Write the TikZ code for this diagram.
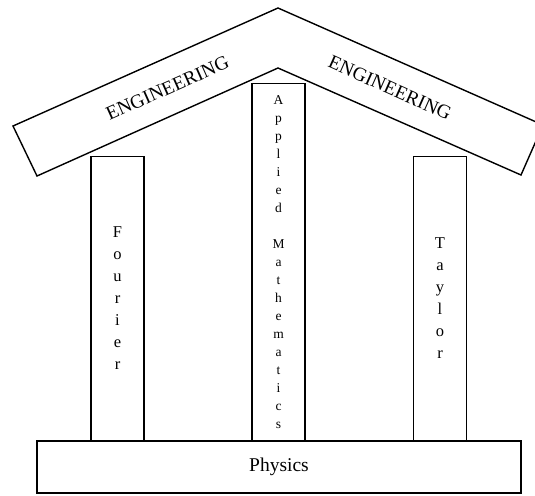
\documentclass[tikz,border=0pt]{standalone}
\usepackage{fontspec}
\setmainfont{Liberation Serif}
\usetikzlibrary{positioning}

\begin{document}
\begin{tikzpicture}[x=1pt, y=-1pt,
        base/.style={rectangle, draw=black, line width=1.4pt, inner sep=0pt},
        pillar/.style={base, minimum width=53pt, align=center, anchor=south, font=\fontsize{16.5}{22}\selectfont},
        roofword/.style={font=\fontsize{19.5}{23}\selectfont, inner sep=0pt}]
        \useasboundingbox (0,0) rectangle (535,495);

        % roof corners
        \coordinate (apex) at (278,8);
        \coordinate (inapex) at (278,68);
        \coordinate (lout) at (13,126);
        \coordinate (lin) at (37,176);
        \coordinate (rout) at (543,125);
        \coordinate (rin) at (521,175);
        \draw[line width=1.4pt, line join=miter] (lout) -- (apex) -- (rout) -- (rin) -- (inapex) -- (lin) -- cycle;

        \node[roofword, rotate=24] (engleft) at (167.5,88) {ENGINEERING};
        \node[roofword, rotate=-24] (engright) at (390,88) {ENGINEERING};

        % base and pillars
        \node[base, minimum width=484pt, minimum height=52pt, font=\fontsize{19.5}{23}\selectfont] (physics) at (279,467) {Physics};
        \node[pillar, minimum height=284pt] (fourier) at (117.5,441) {F\\o\\u\\r\\i\\e\\r};
        \node[pillar, minimum height=357pt, font=\fontsize{13.5}{18}\selectfont] (applied) at (278.5,441) {A\\p\\p\\l\\i\\e\\d\\[18pt]M\\a\\t\\h\\e\\m\\a\\t\\i\\c\\s};
        \node[pillar, minimum height=284pt] (taylor) at (440,441) {T\\a\\y\\l\\o\\r};
    \end{tikzpicture}
\end{document}
